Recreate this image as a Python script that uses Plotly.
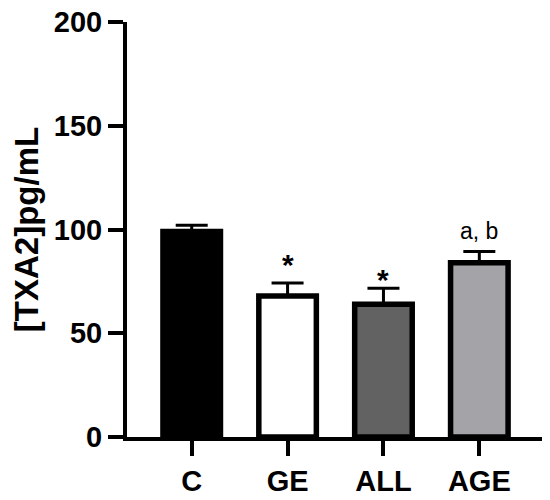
import plotly.graph_objects as go

categories = ["C", "GE", "ALL", "AGE"]
means = [99, 68, 64, 84]
sem = [3, 6.2, 7.7, 5.4]
sig_labels = ["", "*", "*", "a, b"]
bar_colors = ["#000000", "#ffffff", "#626262", "#a3a3a8"]

FONT = "Liberation Sans, Arial, Helvetica, sans-serif"

fig = go.Figure()
fig.add_trace(go.Bar(
    x=categories,
    y=means,
    width=0.6,
    marker=dict(color=bar_colors, line=dict(color="black", width=5.5)),
    error_y=dict(type="data", array=sem, arrayminus=[0] * len(sem),
                 symmetric=False, color="black", thickness=3, width=16),
))

# significance labels: per-label pixel offsets above the error bar top
label_shift = [0, 0, -10, 6]
label_font = [30, 30, 30, 23]
label_weight = ["bold", "bold", "bold", "normal"]
for cat, m, s, lab, sh, fs, fw in zip(categories, means, sem, sig_labels,
                                      label_shift, label_font, label_weight):
    if not lab:
        continue
    fig.add_annotation(
        x=cat, y=m + s, text=lab, showarrow=False,
        xanchor="center", yanchor="bottom", yshift=sh,
        font=dict(family=FONT, size=fs, color="black", weight=fw),
    )

fig.update_layout(
    template="none",
    width=550, height=500,
    margin=dict(l=119, r=13, t=14, b=71),
    plot_bgcolor="white", paper_bgcolor="white",
    showlegend=False,
    font=dict(family=FONT, color="black"),
    xaxis=dict(
        range=[-0.675, 3.685],
        automargin=False,
        showline=True, linecolor="black", linewidth=4,
        ticks="outside", ticklen=15, tickwidth=4, tickcolor="black",
        tickfont=dict(family=FONT, size=29, color="black", weight="bold"),
        ticklabeloverflow="allow",
        showgrid=False, zeroline=False,
    ),
    yaxis=dict(
        range=[0, 200],
        automargin=False,
        tickvals=[0, 50, 100, 150, 200],
        showline=True, linecolor="black", linewidth=4,
        ticks="outside", ticklen=15, tickwidth=4, tickcolor="black",
        tickfont=dict(family=FONT, size=29, color="black", weight="bold"),
        ticklabeloverflow="allow",
        showgrid=False, zeroline=False,
        title=dict(text="[TXA2]pg/mL", standoff=6,
                   font=dict(family=FONT, size=33, color="black", weight="bold")),
    ),
)

fig.write_html("out.html")
